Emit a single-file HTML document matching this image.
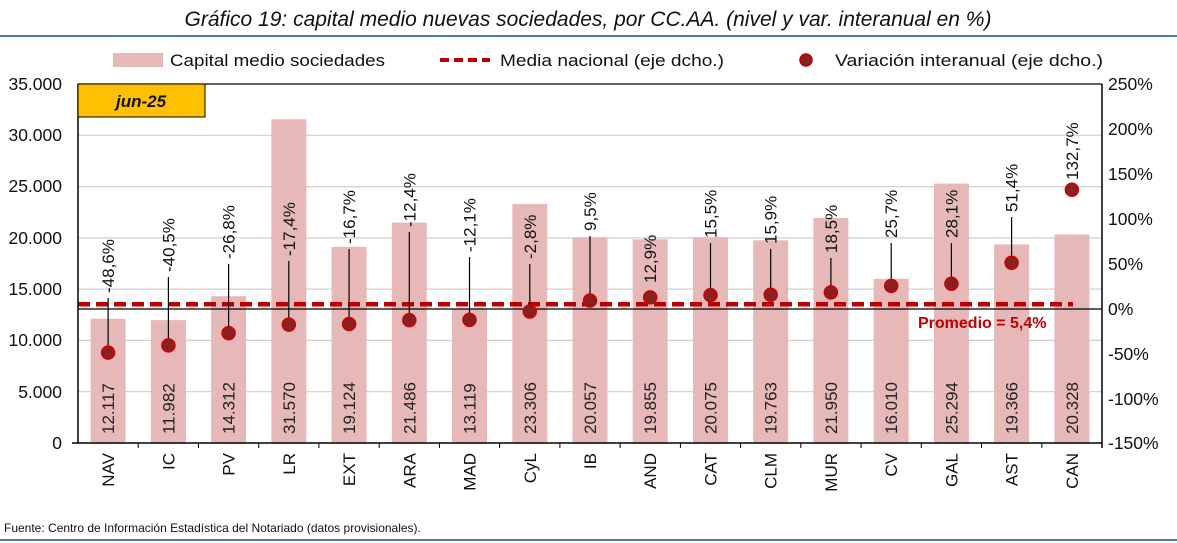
<!DOCTYPE html>
<html><head><meta charset="utf-8"><style>
body{margin:0;background:#fff;}
svg{display:block;font-family:"Liberation Sans",sans-serif;}
</style></head><body>
<svg width="1177" height="543" viewBox="0 0 1177 543" xmlns="http://www.w3.org/2000/svg">
<text x="588" y="26" text-anchor="middle" font-size="21" font-style="italic" fill="#111">Gráfico 19: capital medio nuevas sociedades, por CC.AA. (nivel y var. interanual en %)</text>
<line x1="0" y1="36" x2="1177" y2="36" stroke="#4a78b8" stroke-width="2"/>
<line x1="0" y1="540" x2="1177" y2="540" stroke="#4a78b8" stroke-width="2"/>
<text x="4" y="532" font-size="12" fill="#111">Fuente: Centro de Información Estadística del Notariado (datos provisionales).</text>
<rect x="113" y="53" width="50" height="14" fill="#e6b9b8"/>
<text x="170" y="66" font-size="17" fill="#111" textLength="215" lengthAdjust="spacingAndGlyphs">Capital medio sociedades</text>
<line x1="440" y1="60" x2="490" y2="60" stroke="#c00000" stroke-width="4" stroke-dasharray="9,5"/>
<text x="500" y="66" font-size="17" fill="#111" textLength="224" lengthAdjust="spacingAndGlyphs">Media nacional (eje dcho.)</text>
<circle cx="806" cy="60" r="6" fill="#8b2020" stroke="#c00000" stroke-width="1.5"/>
<text x="835" y="66" font-size="17" fill="#111" textLength="268" lengthAdjust="spacingAndGlyphs">Variación interanual (eje dcho.)</text>
<g stroke="#cfcfcf" stroke-width="1.2">
<line x1="78" x2="1102" y1="135.3" y2="135.3"/><line x1="78" x2="1102" y1="186.6" y2="186.6"/>
<line x1="78" x2="1102" y1="237.9" y2="237.9"/><line x1="78" x2="1102" y1="289.1" y2="289.1"/>
<line x1="78" x2="1102" y1="340.4" y2="340.4"/><line x1="78" x2="1102" y1="391.7" y2="391.7"/>
</g>
<line x1="78" x2="1102" y1="84" y2="84" stroke="#000" stroke-width="1.2"/>
<g font-size="17.5" fill="#111" text-anchor="end">
<text x="62" y="90">35.000</text><text x="62" y="141">30.000</text><text x="62" y="192">25.000</text>
<text x="62" y="244">20.000</text><text x="62" y="295">15.000</text><text x="62" y="346">10.000</text>
<text x="62" y="398">5.000</text><text x="62" y="449">0</text>
</g>
<g font-size="17.5" fill="#111">
<text x="1108" y="90">250%</text><text x="1108" y="135">200%</text><text x="1108" y="180">150%</text>
<text x="1108" y="225">100%</text><text x="1108" y="270">50%</text><text x="1108" y="315">0%</text>
<text x="1108" y="360">-50%</text><text x="1108" y="405">-100%</text><text x="1108" y="449">-150%</text>
</g>
<g fill="#e6b9b8">
<rect x="90.6" y="318.7" width="35" height="124.3"/>
<rect x="150.9" y="320.1" width="35" height="122.9"/>
<rect x="211.1" y="296.2" width="35" height="146.8"/>
<rect x="271.3" y="119.2" width="35" height="323.8"/>
<rect x="331.6" y="246.8" width="35" height="196.2"/>
<rect x="391.8" y="222.6" width="35" height="220.4"/>
<rect x="452.0" y="308.4" width="35" height="134.6"/>
<rect x="512.3" y="203.9" width="35" height="239.1"/>
<rect x="572.5" y="237.3" width="35" height="205.7"/>
<rect x="632.7" y="239.3" width="35" height="203.7"/>
<rect x="693.0" y="237.1" width="35" height="205.9"/>
<rect x="753.2" y="240.3" width="35" height="202.7"/>
<rect x="813.4" y="217.9" width="35" height="225.1"/>
<rect x="873.7" y="278.8" width="35" height="164.2"/>
<rect x="933.9" y="183.6" width="35" height="259.4"/>
<rect x="994.1" y="244.4" width="35" height="198.6"/>
<rect x="1054.4" y="234.5" width="35" height="208.5"/>
</g>
<g font-size="17" fill="#222">
<text transform="translate(114.1,434) rotate(-90)">12.117</text>
<text transform="translate(174.4,434) rotate(-90)">11.982</text>
<text transform="translate(234.6,434) rotate(-90)">14.312</text>
<text transform="translate(294.8,434) rotate(-90)">31.570</text>
<text transform="translate(355.1,434) rotate(-90)">19.124</text>
<text transform="translate(415.3,434) rotate(-90)">21.486</text>
<text transform="translate(475.5,434) rotate(-90)">13.119</text>
<text transform="translate(535.8,434) rotate(-90)">23.306</text>
<text transform="translate(596.0,434) rotate(-90)">20.057</text>
<text transform="translate(656.2,434) rotate(-90)">19.855</text>
<text transform="translate(716.5,434) rotate(-90)">20.075</text>
<text transform="translate(776.7,434) rotate(-90)">19.763</text>
<text transform="translate(836.9,434) rotate(-90)">21.950</text>
<text transform="translate(897.2,434) rotate(-90)">16.010</text>
<text transform="translate(957.4,434) rotate(-90)">25.294</text>
<text transform="translate(1017.6,434) rotate(-90)">19.366</text>
<text transform="translate(1077.9,434) rotate(-90)">20.328</text>
</g>
<g stroke="#000">
<line x1="138.2" x2="138.2" y1="443" y2="448"/><line x1="198.5" x2="198.5" y1="443" y2="448"/>
<line x1="258.7" x2="258.7" y1="443" y2="448"/><line x1="318.9" x2="318.9" y1="443" y2="448"/>
<line x1="379.2" x2="379.2" y1="443" y2="448"/><line x1="439.4" x2="439.4" y1="443" y2="448"/>
<line x1="499.6" x2="499.6" y1="443" y2="448"/><line x1="559.9" x2="559.9" y1="443" y2="448"/>
<line x1="620.1" x2="620.1" y1="443" y2="448"/><line x1="680.4" x2="680.4" y1="443" y2="448"/>
<line x1="740.6" x2="740.6" y1="443" y2="448"/><line x1="800.8" x2="800.8" y1="443" y2="448"/>
<line x1="861.1" x2="861.1" y1="443" y2="448"/><line x1="921.3" x2="921.3" y1="443" y2="448"/>
<line x1="981.5" x2="981.5" y1="443" y2="448"/><line x1="1041.8" x2="1041.8" y1="443" y2="448"/>
</g>
<g font-size="17" fill="#111" text-anchor="end">
<text transform="translate(114.1,453) rotate(-90)">NAV</text>
<text transform="translate(174.4,453) rotate(-90)">IC</text>
<text transform="translate(234.6,453) rotate(-90)">PV</text>
<text transform="translate(294.8,453) rotate(-90)">LR</text>
<text transform="translate(355.1,453) rotate(-90)">EXT</text>
<text transform="translate(415.3,453) rotate(-90)">ARA</text>
<text transform="translate(475.5,453) rotate(-90)">MAD</text>
<text transform="translate(535.8,453) rotate(-90)">CyL</text>
<text transform="translate(596.0,453) rotate(-90)">IB</text>
<text transform="translate(656.2,453) rotate(-90)">AND</text>
<text transform="translate(716.5,453) rotate(-90)">CAT</text>
<text transform="translate(776.7,453) rotate(-90)">CLM</text>
<text transform="translate(836.9,453) rotate(-90)">MUR</text>
<text transform="translate(897.2,453) rotate(-90)">CV</text>
<text transform="translate(957.4,453) rotate(-90)">GAL</text>
<text transform="translate(1017.6,453) rotate(-90)">AST</text>
<text transform="translate(1077.9,453) rotate(-90)">CAN</text>
</g>
<line x1="78" x2="1073" y1="304.2" y2="304.2" stroke="#c00000" stroke-width="4.5" stroke-dasharray="12,6"/>
<line x1="78" x2="1102" y1="309" y2="309" stroke="#000" stroke-width="1.2"/>
<g stroke="#000" stroke-width="1.2">
<line x1="108.1" x2="108.1" y1="352.6" y2="298"/>
<line x1="168.4" x2="168.4" y1="345.4" y2="277"/>
<line x1="228.6" x2="228.6" y1="333.1" y2="264"/>
<line x1="288.8" x2="288.8" y1="324.6" y2="261"/>
<line x1="349.1" x2="349.1" y1="324.0" y2="249"/>
<line x1="409.3" x2="409.3" y1="320.1" y2="232"/>
<line x1="469.5" x2="469.5" y1="319.9" y2="257"/>
<line x1="529.8" x2="529.8" y1="311.5" y2="264"/>
<line x1="590.0" x2="590.0" y1="300.5" y2="236"/>
<line x1="710.5" x2="710.5" y1="295.1" y2="243"/>
<line x1="770.7" x2="770.7" y1="294.7" y2="249"/>
<line x1="830.9" x2="830.9" y1="292.4" y2="258"/>
<line x1="891.2" x2="891.2" y1="285.9" y2="243"/>
<line x1="951.4" x2="951.4" y1="283.8" y2="243"/>
<line x1="1011.6" x2="1011.6" y1="262.8" y2="217"/>
<line x1="1071.9" x2="1071.9" y1="189.8" y2="184"/>
</g>
<g fill="#8b2020" stroke="#d00000" stroke-width="1.5">
<circle cx="108.1" cy="352.6" r="6.5"/><circle cx="168.4" cy="345.4" r="6.5"/>
<circle cx="228.6" cy="333.1" r="6.5"/><circle cx="288.8" cy="324.6" r="6.5"/>
<circle cx="349.1" cy="324.0" r="6.5"/><circle cx="409.3" cy="320.1" r="6.5"/>
<circle cx="469.5" cy="319.9" r="6.5"/><circle cx="529.8" cy="311.5" r="6.5"/>
<circle cx="590.0" cy="300.5" r="6.5"/><circle cx="650.2" cy="297.4" r="6.5"/>
<circle cx="710.5" cy="295.1" r="6.5"/><circle cx="770.7" cy="294.7" r="6.5"/>
<circle cx="830.9" cy="292.4" r="6.5"/><circle cx="891.2" cy="285.9" r="6.5"/>
<circle cx="951.4" cy="283.8" r="6.5"/><circle cx="1011.6" cy="262.8" r="6.5"/>
<circle cx="1071.9" cy="189.8" r="6.5"/>
</g>
<g font-size="17" fill="#111">
<text transform="translate(114.1,293) rotate(-90)">-48,6%</text>
<text transform="translate(174.4,272) rotate(-90)">-40,5%</text>
<text transform="translate(234.6,259) rotate(-90)">-26,8%</text>
<text transform="translate(294.8,256) rotate(-90)">-17,4%</text>
<text transform="translate(355.1,244) rotate(-90)">-16,7%</text>
<text transform="translate(415.3,227) rotate(-90)">-12,4%</text>
<text transform="translate(475.5,252) rotate(-90)">-12,1%</text>
<text transform="translate(535.8,259) rotate(-90)">-2,8%</text>
<text transform="translate(596.0,231) rotate(-90)">9,5%</text>
<text transform="translate(656.2,283) rotate(-90)">12,9%</text>
<text transform="translate(716.5,238) rotate(-90)">15,5%</text>
<text transform="translate(776.7,244) rotate(-90)">15,9%</text>
<text transform="translate(836.9,253) rotate(-90)">18,5%</text>
<text transform="translate(897.2,238) rotate(-90)">25,7%</text>
<text transform="translate(957.4,238) rotate(-90)">28,1%</text>
<text transform="translate(1017.6,212) rotate(-90)">51,4%</text>
<text transform="translate(1077.9,180) rotate(-90)">132,7%</text>
</g>
<line x1="78" x2="78" y1="84" y2="443" stroke="#000" stroke-width="1.5"/>
<line x1="1102" x2="1102" y1="84" y2="448" stroke="#000" stroke-width="1.5"/>
<line x1="72" x2="1102" y1="443" y2="443" stroke="#000" stroke-width="1.5"/>
<rect x="78" y="84" width="127" height="33" fill="#ffc000" stroke="#000" stroke-width="1"/>
<text x="141" y="107" text-anchor="middle" font-size="17" font-weight="bold" font-style="italic" fill="#111">jun-25</text>
<text x="918" y="328" font-size="16" font-weight="bold" fill="#c00000">Promedio = 5,4%</text>
</svg>
</body></html>
